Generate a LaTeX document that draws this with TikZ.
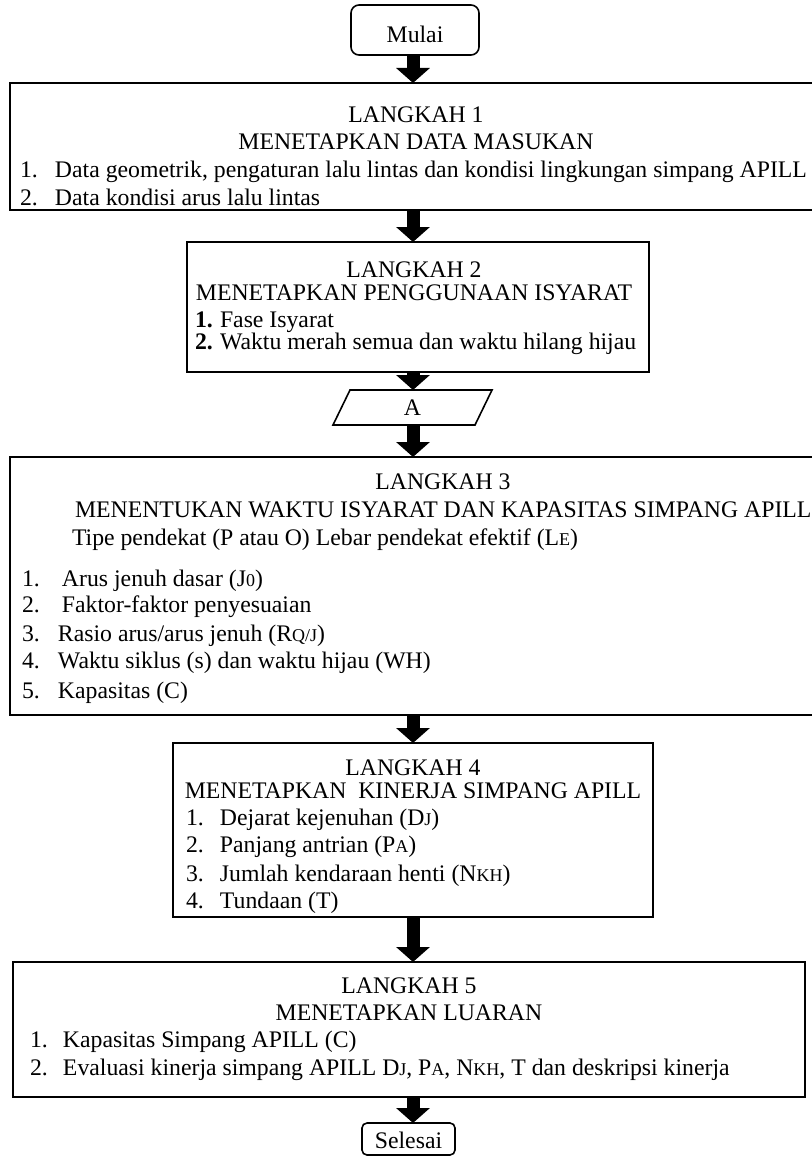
\documentclass[tikz,border=0pt]{standalone}
\usepackage{fontspec}
\setmainfont{Liberation Serif}
\usetikzlibrary{arrows.meta}
\newcommand{\smx}[1]{\raisebox{-0.6pt}{\fontsize{18}{18}\selectfont #1}}
\begin{document}
\begin{tikzpicture}[x=1pt,y=-1pt,
  every node/.style={font=\fontsize{23.75}{28}\selectfont, inner sep=0pt, outer sep=0pt},
  stepbox/.style={draw, line width=1.6pt, fill=none},
  termbox/.style={draw, line width=1.6pt, rounded corners=#1},
  head/.style={anchor=base},
  item/.style={anchor=base west},
  blockarr/.style={line width=13pt, -{Triangle[width=33pt,length=15pt]}}]
\useasboundingbox (0,0) rectangle (811,1156);
\coordinate (axis) at (413,0);

% start
\node[termbox=8pt, minimum width=128pt, minimum height=50pt] (mulai) at (415,30) {};
\node (mulaiT) at (415,34) {Mulai};

% step 1
\node[stepbox, minimum width=813pt, minimum height=127pt] (b1) at (416.5,146.5) {};
\node[head] (b1h1) at (416,122) {LANGKAH 1};
\node[head] (b1h2) at (416,149) {MENETAPKAN DATA MASUKAN};
\node[item] (b1i1) at (20,177) {\makebox[35pt][l]{1.}Data geometrik, pengaturan lalu lintas dan kondisi lingkungan simpang APILL};
\node[item] (b1i2) at (20,205) {\makebox[35pt][l]{2.}Data kondisi arus lalu lintas};

% step 2
\node[stepbox, minimum width=462pt, minimum height=130pt] (b2) at (418,307) {};
\node[head] (b2h1) at (414,277) {LANGKAH 2};
\node[head] (b2h2) at (414,300) {MENETAPKAN PENGGUNAAN ISYARAT};
\node[item] (b2i1) at (195,327) {\makebox[25pt][l]{\textbf{1.}}Fase Isyarat};
\node[item] (b2i2) at (195,349) {\makebox[25pt][l]{\textbf{2.}}Waktu merah semua dan waktu hilang hijau};

% connector A
\node[minimum width=142pt, minimum height=35pt] (pA) at (412.5,407.5) {A};
\draw[line width=1.6pt] ([xshift=8.5pt]pA.north west) -- ([xshift=8.5pt]pA.north east)
  -- ([xshift=-8.5pt]pA.south east) -- ([xshift=-8.5pt]pA.south west) -- cycle;

% step 3
\node[stepbox, minimum width=866pt, minimum height=258pt] (b3) at (443,586) {};
\node[head] (b3h1) at (443,489) {LANGKAH 3};
\node[item] (b3h2) at (75,517) {MENENTUKAN WAKTU ISYARAT DAN KAPASITAS SIMPANG APILL};
\node[item] (b3h3) at (72,545) {Tipe pendekat (P atau O) Lebar pendekat efektif (L\smx{E})};
\node[item] (b3i1) at (22,586) {\makebox[40pt][l]{1.}Arus jenuh dasar (J\smx{0})};
\node[item] (b3i2) at (22,612) {\makebox[40pt][l]{2.}Faktor-faktor penyesuaian};
\node[item] (b3i3) at (22,641) {\makebox[36pt][l]{3.}Rasio arus/arus jenuh (R\smx{Q/J})};
\node[item] (b3i4) at (22,668) {\makebox[36pt][l]{4.}Waktu siklus (s) dan waktu hijau (WH)};
\node[item] (b3i5) at (22,698) {\makebox[36pt][l]{5.}Kapasitas (C)};

% step 4
\node[stepbox, minimum width=480pt, minimum height=174pt] (b4) at (413,830) {};
\node[head] (b4h1) at (413,775) {LANGKAH 4};
\node[head] (b4h2) at (413,798) {MENETAPKAN\ \ KINERJA SIMPANG APILL};
\node[item] (b4i1) at (186,825) {\makebox[34pt][l]{1.}Dejarat kejenuhan (D\smx{J})};
\node[item] (b4i2) at (186,852) {\makebox[34pt][l]{2.}Panjang antrian (P\smx{A})};
\node[item] (b4i3) at (186,881) {\makebox[34pt][l]{3.}Jumlah kendaraan henti (N\smx{KH})};
\node[item] (b4i4) at (186,908) {\makebox[34pt][l]{4.}Tundaan (T)};

% step 5
\node[stepbox, minimum width=792pt, minimum height=135pt] (b5) at (409,1029.5) {};
\node[head] (b5h1) at (409,993) {LANGKAH 5};
\node[head] (b5h2) at (409,1020) {MENETAPKAN LUARAN};
\node[item] (b5i1) at (30,1047) {\makebox[33pt][l]{1.}Kapasitas Simpang APILL (C)};
\node[item] (b5i2) at (30,1075) {\makebox[33pt][l]{2.}Evaluasi kinerja simpang APILL D\smx{J}, P\smx{A}, N\smx{KH}, T dan deskripsi kinerja};

% end
\node[termbox=5pt, minimum width=93pt, minimum height=32pt] (selesai) at (408.5,1139) {};
\node (selesaiT) at (408.5,1140) {Selesai};

% arrows
\draw[blockarr] (axis |- mulai.south) -- (axis |- b1.north);
\draw[blockarr] (axis |- b1.south) -- (axis |- b2.north);
\draw[blockarr] (axis |- b2.south) -- (axis |- pA.north);
\draw[blockarr] (axis |- pA.south) -- (axis |- b3.north);
\draw[blockarr] (axis |- b3.south) -- (axis |- b4.north);
\draw[blockarr] (axis |- b4.south) -- (axis |- b5.north);
\draw[blockarr] (axis |- b5.south) -- (axis |- selesai.north);
\end{tikzpicture}
\end{document}
